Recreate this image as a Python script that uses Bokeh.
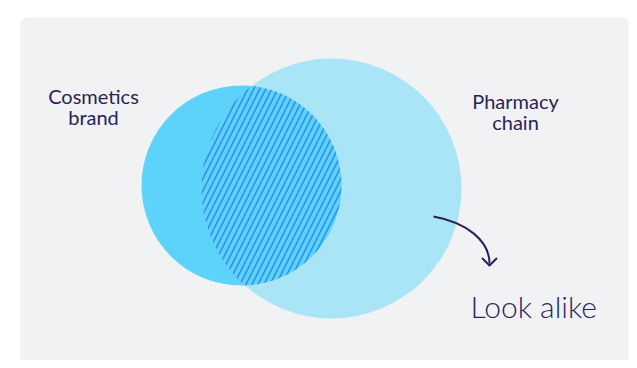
import numpy as np
from bokeh.plotting import figure
from bokeh.models import Range1d
from bokeh.core.properties import value
from bokeh.embed import file_html
from bokeh.resources import INLINE

# ---- data: two sets (centre x, centre y, radius) in page pixels ----
set_names = ["Cosmetics\nbrand", "Pharmacy\nchain"]
set_cx = [241, 331]
set_cy = [185, 188]
set_r = [100, 130]
set_colors = ["#5dd3fb", "#a9e5f7"]
overlap_label = "Look alike"

INK = "#2b1f5c"
PANEL = "#f1f2f4"

p = figure(width=629, height=360, output_backend="svg", toolbar_location=None,
           x_range=Range1d(0, 629), y_range=Range1d(360, 0),
           min_border=0, background_fill_color="white", border_fill_color="white")
p.axis.visible = False
p.grid.visible = False
p.outline_line_color = None

# grey panel
p.quad(left=[20], right=[628], top=[17], bottom=[363], fill_color=PANEL,
       line_color=None, border_radius=6)

# big circle first, small circle on top
p.circle(x=[set_cx[1]], y=[set_cy[1]], radius=set_r[1], fill_color=set_colors[1], line_color=None)
p.circle(x=[set_cx[0]], y=[set_cy[0]], radius=set_r[0], fill_color=set_colors[0], line_color=None)

# lens (intersection) computed from circle data
c1 = np.array([set_cx[0], set_cy[0]], float)
c2 = np.array([set_cx[1], set_cy[1]], float)
r1, r2 = set_r
d12 = c2 - c1
a12 = np.arctan2(d12[1], d12[0])
t = np.linspace(-np.pi, np.pi, 2000)
arc1 = np.stack([c1[0] + r1 * np.cos(a12 + t), c1[1] + r1 * np.sin(a12 + t)], 1)
arc1 = arc1[np.hypot(arc1[:, 0] - c2[0], arc1[:, 1] - c2[1]) <= r2]
a21 = a12 + np.pi
arc2 = np.stack([c2[0] + r2 * np.cos(a21 + t), c2[1] + r2 * np.sin(a21 + t)], 1)
arc2 = arc2[np.hypot(arc2[:, 0] - c1[0], arc2[:, 1] - c1[1]) <= r1]
lens = np.vstack([arc1, arc2])
p.patch(x=lens[:, 0], y=lens[:, 1], fill_alpha=0, line_color=None,
        hatch_pattern="/", hatch_color="#2f8fe8", hatch_weight=1.6, hatch_scale=12)

# labels
def label(lines, x, y0, size, align, lh, font):
    for i, s in enumerate(lines):
        p.text(x=[x], y=[y0 + i * lh], text=[s], text_align=align,
               text_baseline="alphabetic", text_color=INK,
               text_font=value(font), text_font_size=size)

label(set_names[0].split("\n"), 93, 95, "20px", "center", 21, "Lato")
label(set_names[1].split("\n"), 515, 100, "20px", "center", 21, "Lato")
label([overlap_label], 470, 305, "30px", "left", 0, "Lato Light, Lato")

# curved arrow
p.bezier(x0=[433], y0=[216], x1=[489], y1=[263], cx0=[466], cy0=[222],
         cx1=[489], cy1=[240], line_color=INK, line_width=2)
p.line(x=[482, 489, 496], y=[258, 265, 258], line_color=INK, line_width=2,
       line_join="round", line_cap="round")

open("out.html", "w").write(file_html(p, INLINE))
